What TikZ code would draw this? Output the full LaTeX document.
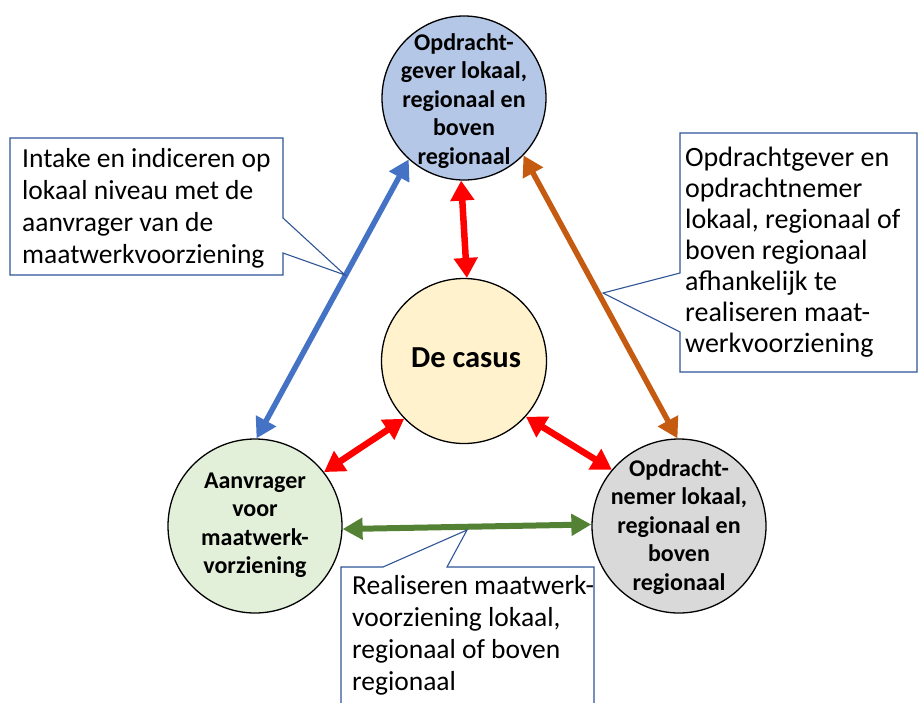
\documentclass[tikz,border=0pt]{standalone}
\usepackage{fontspec}
\setmainfont{Carlito}
\usetikzlibrary{arrows.meta,calc}
\definecolor{cblue}{HTML}{B4C7E7}
\definecolor{ccream}{HTML}{FFF2CC}
\definecolor{cgreen}{HTML}{E2F0D9}
\definecolor{cgray}{HTML}{D9D9D9}
\definecolor{ablue}{HTML}{4472C4}
\definecolor{aorange}{HTML}{C55A11}
\definecolor{agreen}{HTML}{548235}
\definecolor{cline}{HTML}{2F5597}
\tikzset{
  circ/.style={circle, draw=black, line width=1.3pt, inner sep=0pt},
  ctext/.style={align=center, inner sep=0pt, font=\bfseries\fontsize{24}{28.5}\selectfont},
  boxtext/.style={align=left, inner sep=0pt, font=\fontsize{27.5}{32}\selectfont},
  calloutline/.style={draw=cline, line width=1.1pt, fill=white, line join=miter},
  redarr/.style={draw=red, line width=6.5pt, {Triangle[length=20pt,width=23pt]}-{Triangle[length=20pt,width=23pt]}},
  bluearr/.style={draw=ablue, line width=5.5pt, {Triangle[length=20pt,width=22pt]}-{Triangle[length=20pt,width=22pt]}},
  orangearr/.style={draw=aorange, line width=5.5pt, {Triangle[length=20pt,width=22pt]}-{Triangle[length=20pt,width=22pt]}},
  greenarr/.style={draw=agreen, line width=6pt, {Triangle[length=20pt,width=21pt]}-{Triangle[length=20pt,width=21pt]}},
}
\begin{document}
\begin{tikzpicture}[x=1pt,y=-1pt]
\useasboundingbox (0,0) rectangle (918,702);

% circles
\node[circ, fill=cblue, minimum size=164pt] (T) at (464,98) {};
\node[circ, fill=ccream, minimum size=165pt] (C) at (464,361) {};
\node[circ, fill=cgreen, minimum size=174pt] (A) at (255,526) {};
\node[circ, fill=cgray, minimum size=174pt] (R) at (679,526) {};

\node[ctext] (Tt) at (464,101) {Opdracht-\\gever lokaal,\\regionaal en\\boven\\regionaal};
\node[ctext, font=\bfseries\fontsize{30.5}{36}\selectfont] (Ct) at (466,358) {De casus};
\node[ctext] (At) at (255,525) {Aanvrager\\voor\\maatwerk-\\vorziening};
\node[ctext] (Rt) at (679,527) {Opdracht-\\nemer lokaal,\\regionaal en\\boven\\regionaal};

% arrows
\draw[bluearr] (T.228) -- (A.89);
\draw[orangearr] (T.316) -- (R.91);
\draw[redarr] (T.268) -- (C.88);
\draw[redarr] (C.224) -- (A.38);
\draw[redarr] (C.318) -- (R.140);
\draw[greenarr] (A.358) -- (R.179);

% left callout
\coordinate (L1) at (10,138);
\coordinate (L2) at (283,138);
\coordinate (L3) at (283,218);
\coordinate (Ltip) at (345,275);
\coordinate (L4) at (283,253);
\coordinate (L5) at (283,275);
\coordinate (L6) at (10,275);
\draw[calloutline] (L1) -- (L2) -- (L3) -- (Ltip) -- (L4) -- (L5) -- (L6) -- cycle;
\node[boxtext, anchor=west] (Lt) at (22,208) {Intake en indiceren op\\lokaal niveau met de\\aanvrager van de\\maatwerkvoorziening};

% right callout
\coordinate (Q1) at (680,133);
\coordinate (Q2) at (917,133);
\coordinate (Q3) at (917,372);
\coordinate (Q4) at (680,372);
\coordinate (Q5) at (680,332);
\coordinate (Qtip) at (603,293);
\coordinate (Q6) at (680,273);
\draw[calloutline] (Q1) -- (Q2) -- (Q3) -- (Q4) -- (Q5) -- (Qtip) -- (Q6) -- cycle;
\node[boxtext, anchor=west, font=\fontsize{28}{31}\selectfont] (Qt) at (685,252) {Opdrachtgever en\\opdrachtnemer\\lokaal, regionaal of\\boven regionaal\\afhankelijk te\\realiseren maat-\\werkvoorziening};

% bottom callout
\coordinate (B1) at (341,567);
\coordinate (B2) at (383,567);
\coordinate (Btip) at (467,530);
\coordinate (B3) at (447,567);
\coordinate (B4) at (594,567);
\coordinate (B5) at (594,710);
\coordinate (B6) at (341,710);
\draw[calloutline] (B1) -- (B2) -- (Btip) -- (B3) -- (B4) -- (B5) -- (B6) -- cycle;
\node[boxtext, anchor=west] (Bt) at (352,635) {Realiseren maatwerk-\\voorziening lokaal,\\regionaal of boven\\regionaal};
\end{tikzpicture}
\end{document}
